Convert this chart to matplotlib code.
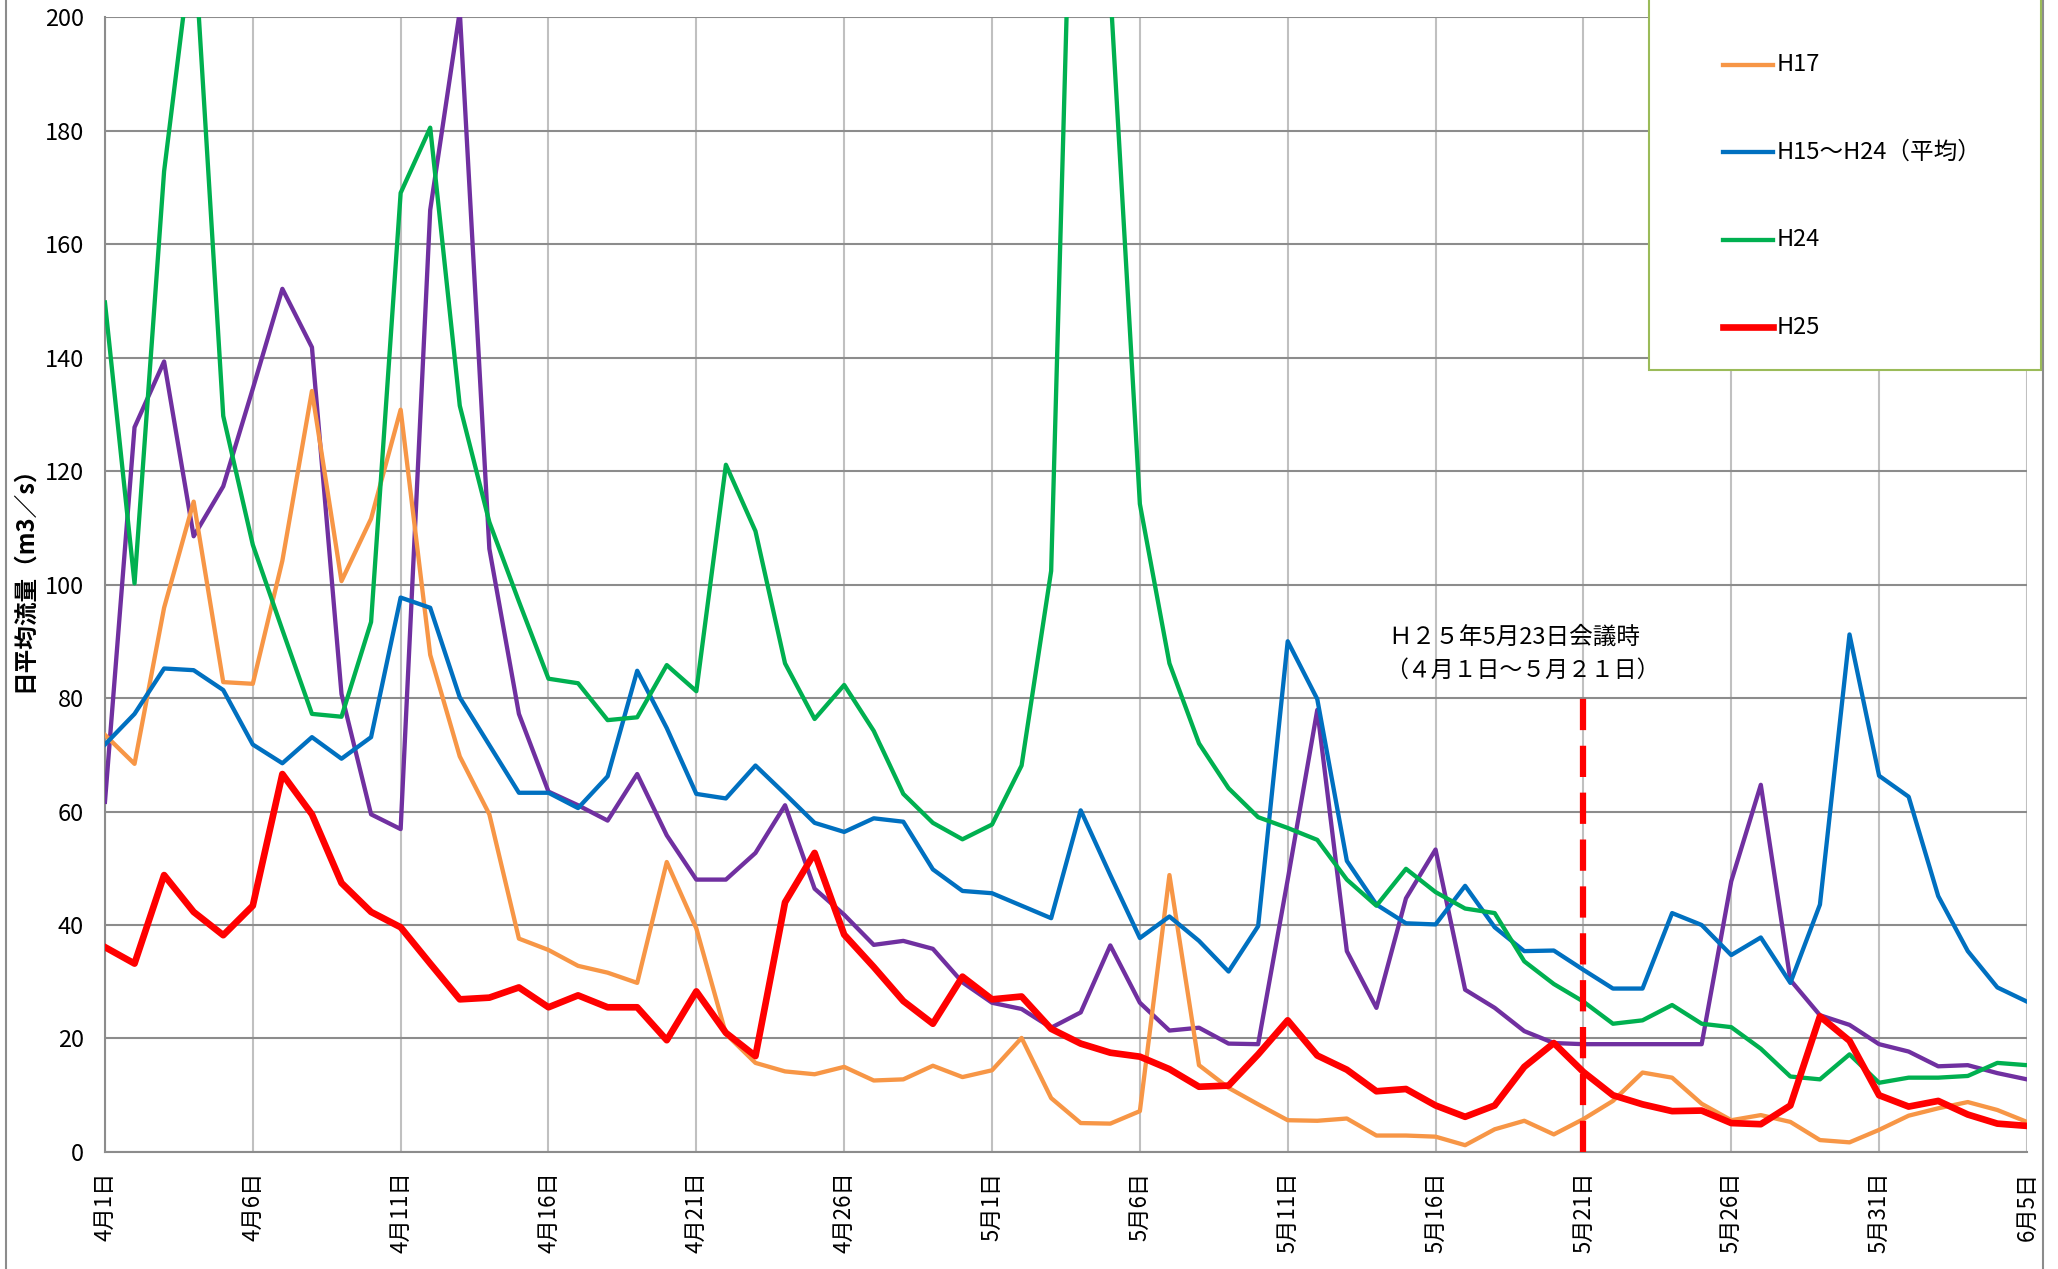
import matplotlib
matplotlib.use("Agg")
import matplotlib.pyplot as plt
from matplotlib.patches import Rectangle
from matplotlib.lines import Line2D
import numpy as np

plt.rcParams['font.family'] = ['Noto Sans CJK JP', 'DejaVu Sans']

# days from 4/1 to 6/5
days = np.arange(66)
month_lengths = {4: 30, 5: 31, 6: 30}

h17 = [73.5, 68.4, 95.9, 114.6, 82.8, 82.5, 104.2, 134.1, 100.6, 111.6,
       130.8, 87.6, 69.7, 59.5, 37.6, 35.6, 32.8, 31.6, 29.8, 51.1,
       39.4, 20.8, 15.7, 14.2, 13.7, 15.0, 12.6, 12.8, 15.2, 13.2,
       14.4, 20.1, 9.5, 5.1, 5.0, 7.2, 48.8, 15.3, 11.3, 8.4,
       5.6, 5.5, 5.9, 2.9, 2.9, 2.7, 1.2, 4.0, 5.5, 3.1,
       5.8, 9.0, 14.0, 13.1, 8.5, 5.6, 6.5, 5.3, 2.1, 1.7,
       3.9, 6.4, 7.7, 8.8, 7.4, 5.3]

avg = [71.8, 77.2, 85.2, 84.9, 81.4, 71.8, 68.5, 73.1, 69.3, 73.1,
       97.7, 95.9, 80.1, 71.7, 63.3, 63.3, 60.6, 66.2, 84.8, 74.7,
       63.1, 62.3, 68.1, 63.1, 58.0, 56.4, 58.8, 58.2, 49.8, 46.0,
       45.6, 43.4, 41.2, 60.2, 48.8, 37.7, 41.5, 37.2, 31.8, 39.8,
       90.0, 79.8, 51.3, 43.6, 40.3, 40.1, 46.9, 39.6, 35.4, 35.5,
       32.1, 28.8, 28.8, 42.1, 40.0, 34.7, 37.8, 29.8, 43.6, 91.2,
       66.3, 62.6, 45.1, 35.4, 29.0, 26.5]

h24 = [149.7, 100.2, 172.8, 215.0, 129.7, 107.0, 92.0, 77.2, 76.7, 93.4,
       169.0, 180.5, 131.5, 111.0, 97.0, 83.4, 82.6, 76.1, 76.6, 85.8,
       81.2, 121.1, 109.4, 86.1, 76.3, 82.3, 74.2, 63.1, 58.0, 55.1,
       57.7, 68.1, 102.4, 290.0, 205.0, 114.2, 86.1, 72.0, 64.1, 59.0,
       57.1, 55.0, 48.0, 43.4, 49.9, 45.8, 42.9, 42.1, 33.6, 29.6,
       26.5, 22.6, 23.2, 25.9, 22.6, 22.0, 18.2, 13.3, 12.8, 17.2,
       12.2, 13.1, 13.1, 13.4, 15.7, 15.3]

h25 = [36.1, 33.2, 48.8, 42.3, 38.2, 43.4, 66.6, 59.5, 47.4, 42.3,
       39.6, 33.2, 26.9, 27.2, 29.0, 25.5, 27.6, 25.5, 25.5, 19.7,
       28.3, 21.0, 16.9, 44.0, 52.7, 38.3, 32.6, 26.6, 22.6, 30.9,
       26.9, 27.4, 21.7, 19.1, 17.5, 16.8, 14.6, 11.5, 11.7, 17.2,
       23.2, 17.0, 14.5, 10.7, 11.1, 8.2, 6.2, 8.2, 15.0, 19.2,
       14.1, 10.0, 8.4, 7.2, 7.3, 5.1, 4.9, 8.2, 23.9, 19.6,
       10.0, 8.0, 9.0, 6.6, 5.0, 4.6]

other = [61.7, 127.7, 139.3, 108.5, 117.3, 134.5, 152.1, 141.8, 80.7, 59.5,
         56.9, 166.0, 201.0, 106.3, 77.2, 63.5, 61.1, 58.4, 66.6, 55.8,
         48.0, 48.0, 52.7, 61.1, 46.4, 41.8, 36.5, 37.2, 35.8, 29.9,
         26.3, 25.2, 21.9, 24.6, 36.4, 26.3, 21.4, 21.9, 19.1, 19.0,
         48.0, 77.9, 35.4, 25.4, 44.7, 53.3, 28.6, 25.4, 21.3, 19.2,
         19.0, 19.0, 19.0, 19.0, 19.0, 47.7, 64.7, 30.3, 24.1, 22.4,
         19.0, 17.7, 15.1, 15.3, 13.9, 12.8]

meeting_day = 50
meeting_top = 80

# tick labels every 5 days
labels = []
m, d = 4, 1
for i in days:
    labels.append(f"{m}月{d}日")
    d += 1
    if d > month_lengths[m]:
        m, d = m + 1, 1

fig = plt.figure(figsize=(20.58, 12.69), dpi=100)
ax = fig.add_axes([0.0510, 0.0922, 0.9339, 0.8944])

ax.plot(days, other, color='#7030A0', lw=3.1, zorder=3)
ax.plot(days, h17, color='#F79646', lw=3.1, zorder=3)
ax.plot(days, avg, color='#0070C0', lw=3.1, zorder=3)
ax.plot(days, h24, color='#00B050', lw=3.1, zorder=3)
ax.plot(days, h25, color='#FF0000', lw=4.8, zorder=4)

ax.vlines(meeting_day, 0, meeting_top, colors='#FF0000', lw=4.5,
          linestyles=(0, (5, 2.5)), zorder=5)
ax.text(43.4, 90.7, "Ｈ２５年5月23日会議時", fontsize=17, va='center', ha='left')
ax.text(43.3, 84.9, "（４月１日～５月２１日）", fontsize=16.5, va='center', ha='left')

ax.set_xlim(0, 65)
ax.set_ylim(0, 200)
ax.set_yticks(np.arange(0, 201, 20))
ax.set_xticks(days[::5])
ax.set_xticklabels(labels[::5], rotation=90, fontsize=16)
ax.tick_params(axis='y', labelsize=17, length=0, pad=15)
ax.tick_params(axis='x', length=0, pad=14)

ax.grid(axis='y', color='#8C8C8C', lw=1.5)
ax.grid(axis='x', color='#C0C0C0', lw=1.5)
ax.set_axisbelow(True)
for s in ['top', 'right']:
    ax.spines[s].set_visible(False)
for s in ['left', 'bottom']:
    ax.spines[s].set_color('#8C8C8C')
    ax.spines[s].set_linewidth(1.5)

fig.text(0.0117, 0.548, "日平均流量（m3／s）", rotation=90, fontsize=17,
         fontweight='bold', ha='center', va='center')

# outer frame of the chart area
fig.add_artist(Rectangle((6 / 2058, -0.05), 2037 / 2058, 1.1, transform=fig.transFigure,
                         fill=False, edgecolor='#8C8C8C', lw=1.5, zorder=1))

# legend box (top cut off)
fig.add_artist(Rectangle((0.8013, 0.7084), 0.1904, 0.35, transform=fig.transFigure,
                         facecolor='white', edgecolor='#9BBB59', lw=1.5, zorder=10))
leg_items = [("H17", '#F79646', 3.1, 0.9488),
             ("H15～H24（平均）", '#0070C0', 3.1, 0.8802),
             ("H24", '#00B050', 3.1, 0.8109),
             ("H25", '#FF0000', 4.8, 0.7423)]
for name, col, lw, yy in leg_items:
    fig.add_artist(Line2D([0.8372, 0.8615], [yy, yy], transform=fig.transFigure,
                          color=col, lw=lw, zorder=11))
    fig.text(0.8635, yy, name, fontsize=17, va='center', ha='left', zorder=12)

fig.savefig("out.png", dpi=100)
